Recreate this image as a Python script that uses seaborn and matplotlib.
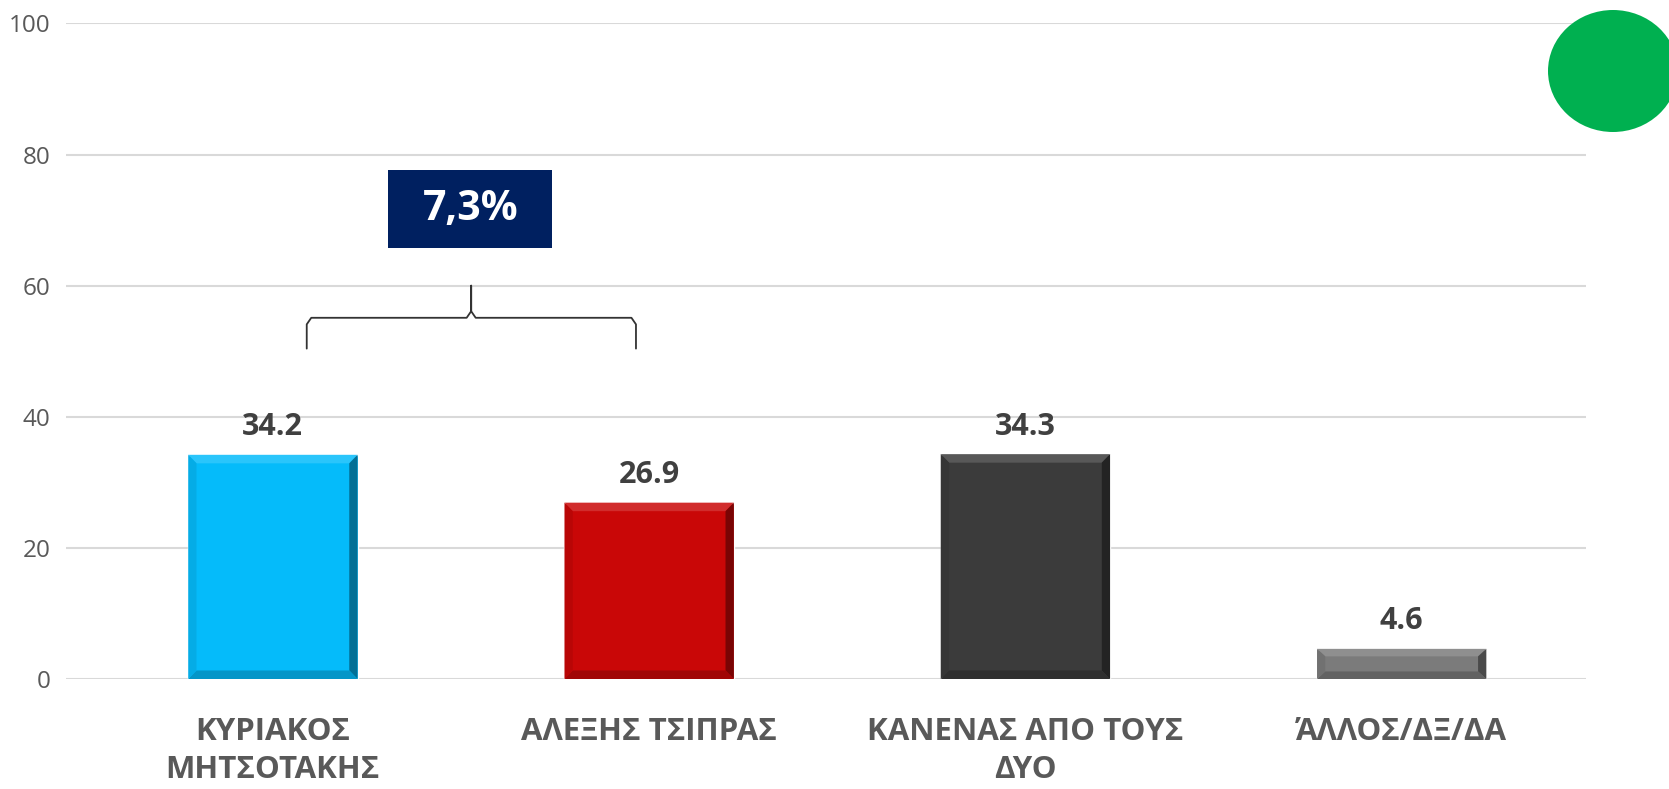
import matplotlib
matplotlib.use("Agg")
import matplotlib.pyplot as plt
import seaborn as sns
import pandas as pd
from matplotlib.patches import Polygon, Ellipse, Rectangle
from matplotlib.colors import to_rgb

# data
categories = ["ΚΥΡΙΑΚΟΣ\nΜΗΤΣΟΤΑΚΗΣ", "ΑΛΕΞΗΣ ΤΣΙΠΡΑΣ", "ΚΑΝΕΝΑΣ ΑΠΟ ΤΟΥΣ\nΔΥΟ", "ΆΛΛΟΣ/ΔΞ/ΔΑ"]
values = [34.2, 26.9, 34.3, 4.6]
bar_colors = ["#05BBFA", "#C90707", "#3B3B3B", "#7B7B7B"]
yticks = [0, 20, 40, 60, 80, 100]
gap_label = "7,3%"

sns.set_theme(style="white")
plt.rcParams["font.family"] = ["Open Sans", "DejaVu Sans"]

df = pd.DataFrame({"cat": categories, "val": values})

fig = plt.figure(figsize=(16.69, 7.89), dpi=100)
ax = fig.add_axes([0.0395, 0.1394, 0.9108, 0.8309])

sns.barplot(data=df, x="cat", y="val", hue="cat", palette=bar_colors,
            legend=False, width=0.45, saturation=1, ax=ax, zorder=3)

ax.set_ylim(0, 100)
ax.set_xlim(-0.55, 3.49)
ax.set_yticks(yticks)
ax.yaxis.grid(True, color="#D9D9D9", lw=1.5, zorder=0)
ax.set_axisbelow(True)
for s in ax.spines.values():
    s.set_visible(False)
ax.set_xlabel("")
ax.set_ylabel("")
ax.tick_params(axis="y", length=0, pad=11, labelsize=17.5, labelcolor="#595959")
ax.tick_params(axis="x", length=0, pad=27)
for lab in ax.get_xticklabels():
    lab.set_fontsize(22.5)
    lab.set_fontweight("bold")
    lab.set_color("#595959")
    lab.set_linespacing(1.35)


def shade(c, f):
    r, g, b = to_rgb(c)
    if f > 0:
        return (r + (1 - r) * f, g + (1 - g) * f, b + (1 - b) * f)
    return (r * (1 + f), g * (1 + f), b * (1 + f))


# bevel look on each bar + value labels
bx, by = 0.022, 1.3
for p, c, v in zip(ax.patches, bar_colors, values):
    x0, w, h = p.get_x(), p.get_width(), p.get_height()
    x1 = x0 + w
    dy = min(by, h / 4)
    top = Polygon([(x0, h), (x1, h), (x1 - bx, h - dy), (x0 + bx, h - dy)],
                  closed=True, fc=shade(c, 0.15), ec="none", zorder=4)
    right = Polygon([(x1, h), (x1, 0), (x1 - bx, dy), (x1 - bx, h - dy)],
                    closed=True, fc=shade(c, -0.4), ec="none", zorder=4)
    bottom = Polygon([(x0, 0), (x1, 0), (x1 - bx, dy), (x0 + bx, dy)],
                     closed=True, fc=shade(c, -0.2), ec="none", zorder=4)
    left = Polygon([(x0, 0), (x0, h), (x0 + bx, h - dy), (x0 + bx, dy)],
                   closed=True, fc=shade(c, -0.08), ec="none", zorder=4)
    for poly in (top, right, bottom, left):
        ax.add_patch(poly)
    ax.annotate(f"{v:.1f}", (x0 + w / 2, h), xytext=(0, 9),
                textcoords="offset points", ha="center", va="bottom",
                fontsize=22, fontweight="bold", color="#404040", zorder=5)

# curly brace between the first two bars
xl, xr, xm = 0.09, 0.965, 0.527
yb, yh, yt = 50.4, 55.1, 60.0
r = 0.012
brace_x = [xl, xl, xl + r, xm - r, xm, xm, xm, xm + r, xr - r, xr, xr]
brace_y = [yb, yh - 1, yh, yh, yh + 1, yt, yh + 1, yh, yh, yh - 1, yb]
ax.plot(brace_x, brace_y, color="#333333", lw=1.3, zorder=5,
        solid_joinstyle="round")

# navy label box with the gap
ax.add_patch(Rectangle((0.307, 65.8), 0.436, 11.9, fc="#002060", ec="none",
                       zorder=5))
ax.text(0.525, 71.6, gap_label, ha="center", va="center", fontsize=29.5,
        fontweight="bold", color="white", zorder=6)

# green dot top right
fig.patches.append(Ellipse((1613 / 1669, 1 - 71 / 789), 130 / 1669, 122 / 789,
                           transform=fig.transFigure, fc="#00B050", ec="none",
                           zorder=10))

fig.savefig("out.png", dpi=100)
